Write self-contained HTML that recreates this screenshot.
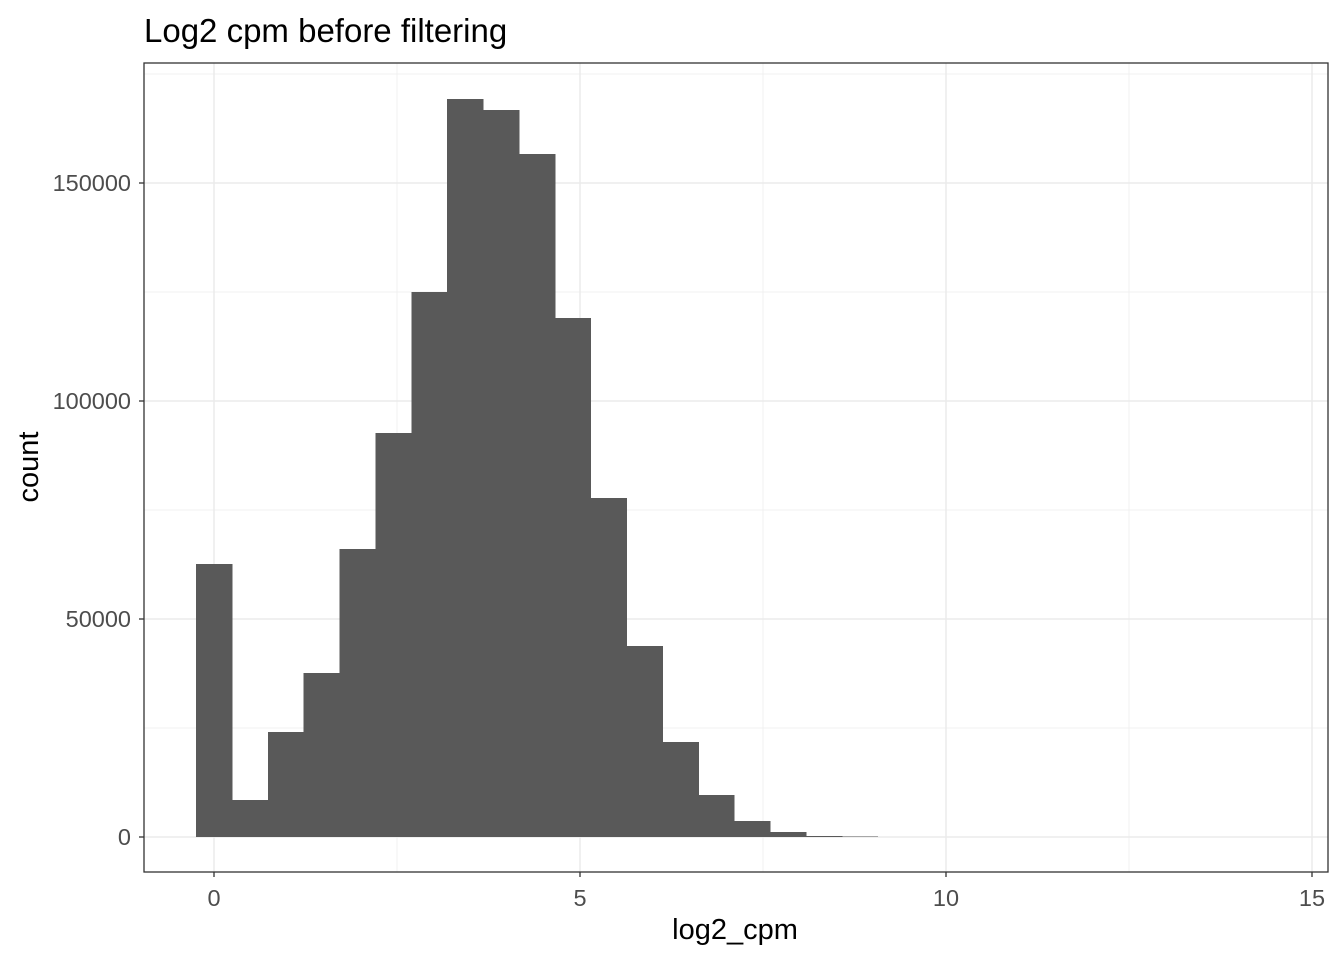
<!DOCTYPE html>
<html><head><meta charset="utf-8"><style>
body{margin:0;background:#fff;font-family:"Liberation Sans",Arial,sans-serif}
</style></head><body>
<svg id="chart" width="1344" height="960" xmlns="http://www.w3.org/2000/svg">
<rect width="1344" height="960" fill="#fff"/>
<text x="144" y="42" font-size="33" fill="#000">Log2 cpm before filtering</text>
<g id="grid"></g>
<g id="bars" shape-rendering="crispEdges"></g>
<rect x="144" y="63" width="1184" height="809" fill="none" stroke="#333" stroke-width="1.3"/>
<g id="axes"></g>
<text x="735" y="939" font-size="29" text-anchor="middle" fill="#000">log2_cpm</text>
<text transform="translate(38,467) rotate(-90)" font-size="29" text-anchor="middle" fill="#000">count</text>
</svg>
<script>
const binStart = -0.245;
const binWidth = 0.49;
const counts = [62600,8500,24100,37600,66100,92700,125000,169300,166700,156700,119000,77800,43800,21800,9600,3700,1150,230,150,0,0,0,0,0,0,0,0,0,0,0];
const xTicks = [0,5,10,15];
const xMinor = [2.5,7.5,12.5];
const yTicks = [0,50000,100000,150000];
const yMinor = [25000,75000,125000,175000];
const yTickLabels = ["0","50000","100000","150000"];

const NS="http://www.w3.org/2000/svg";
const px0=144,px1=1328,py0=63,py1=872;
function X(v){return 214+v*73.2;}
function Y(v){return 837-v*218/50000;}
function mk(tag,attrs,parent){const e=document.createElementNS(NS,tag);for(const k in attrs)e.setAttribute(k,attrs[k]);parent.appendChild(e);return e;}
const grid=document.getElementById('grid'),bars=document.getElementById('bars'),axes=document.getElementById('axes');
xMinor.forEach(v=>{const l=mk('line',{x1:X(v),x2:X(v),y1:py0,y2:py1,stroke:'#f0f0f0','stroke-width':1},grid);

});
yMinor.forEach(v=>{if(Y(v)<py0)return;const l=mk('line',{x1:px0,x2:px1,y1:Y(v),y2:Y(v),stroke:'#f0f0f0','stroke-width':1},grid);

});
xTicks.forEach(v=>{const l=mk('line',{x1:X(v),x2:X(v),y1:py0,y2:py1,stroke:'#ebebeb','stroke-width':1.5},grid);


const t=mk('line',{x1:X(v),x2:X(v),y1:py1,y2:py1+5,stroke:'#333','stroke-width':1.3},axes);


const tx=mk('text',{x:X(v),y:906,'font-size':23.5,'text-anchor':'middle',fill:'#4d4d4d'},axes);tx.textContent=v;

});
yTicks.forEach((v,i)=>{const l=mk('line',{x1:px0,x2:px1,y1:Y(v),y2:Y(v),stroke:'#ebebeb','stroke-width':1.5},grid);


const t=mk('line',{x1:px0-5,x2:px0,y1:Y(v),y2:Y(v),stroke:'#333','stroke-width':1.3},axes);


const tx=mk('text',{x:px0-13,y:Y(v)+8,'font-size':23.5,'text-anchor':'end',fill:'#4d4d4d'},axes);tx.textContent=yTickLabels[i];

});
counts.forEach((c,i)=>{if(c<=0)return;const x0=X(binStart+i*binWidth),x1=X(binStart+(i+1)*binWidth);
const r=mk('rect',{x:x0,y:Y(c),width:x1-x0+0.6,height:Y(0)-Y(c),fill:'#595959'},bars);

});
</script>
</body></html>
